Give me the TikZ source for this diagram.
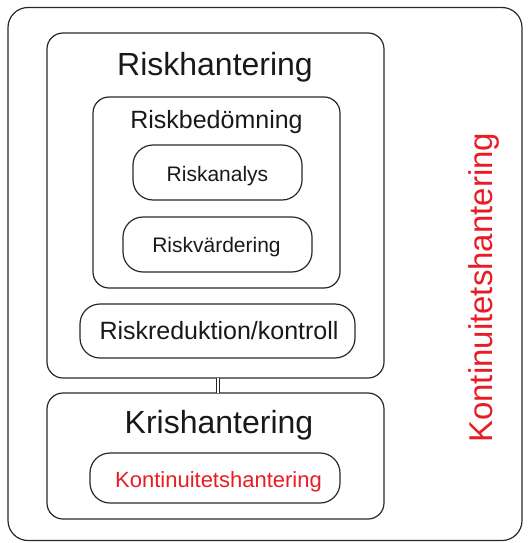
\documentclass[tikz,border=0pt]{standalone}
\usepackage{fontspec}
\setmainfont{Liberation Sans}
\definecolor{redtxt}{RGB}{232,28,36}
\definecolor{edge}{RGB}{40,40,40}
\newcommand{\fsz}[1]{\fontsize{#1}{#1}\selectfont}
\begin{document}
\begin{tikzpicture}[x=1pt,y=-1pt,
  box/.style={draw=edge,line width=1.2pt,inner sep=0pt,outer sep=0pt,rounded corners=#1},
  box/.default=16pt,
  lbl/.style={inner sep=0pt,anchor=base,text=black!90}]
\useasboundingbox (0,0) rectangle (529,543);
% outer box
\node[box=20pt,minimum width=514pt,minimum height=533pt] (outer) at (265,274) {};
% Riskhantering
\node[box=16pt,minimum width=337pt,minimum height=345pt] (rh) at (215.5,205.5) {};
\node[lbl,font=\fsz{32}] (rht) at (215,75) {Riskhantering};
% Riskbedömning
\node[box=16pt,minimum width=247pt,minimum height=191pt] (rb) at (216.5,192.5) {};
\node[lbl,font=\fsz{25}] (rbt) at (216.5,128) {Riskbedömning};
% Riskanalys
\node[box=20pt,minimum width=169pt,minimum height=55pt] (ra) at (217.5,172.5) {};
\node[lbl,font=\fsz{21}] (rat) at (217.5,181) {Riskanalys};
% Riskvärdering
\node[box=20pt,minimum width=189pt,minimum height=55pt] (rv) at (217.5,244.5) {};
\node[lbl,font=\fsz{21}] (rvt) at (216.5,252) {Riskvärdering};
% Riskreduktion/kontroll
\node[box=20pt,minimum width=275pt,minimum height=54pt] (rr) at (217.5,331) {};
\node[lbl,font=\fsz{25}] (rrt) at (219,339) {Riskreduktion/kontroll};
% Krishantering
\node[box=16pt,minimum width=337pt,minimum height=126pt] (kh) at (215.5,456) {};
\node[lbl,font=\fsz{32}] (kht) at (219,433) {Krishantering};
% Kontinuitetshantering (inner)
\node[box=20pt,minimum width=250pt,minimum height=50pt] (kt) at (215,478) {};
\node[lbl,font=\fsz{22},text=redtxt] (ktt) at (218.5,487) {Kontinuitetshantering};
% vertical label
\node[inner sep=0pt,rotate=90,anchor=base west,font=\fsz{33},text=redtxt] (vk) at (492,443) {Kontinuitetshantering};
% connector
\draw[draw=edge,line width=1pt,double=white,double distance=2.5pt] ([xshift=2.5pt]rh.south) -- ([xshift=2.5pt]kh.north);
\end{tikzpicture}
\end{document}
